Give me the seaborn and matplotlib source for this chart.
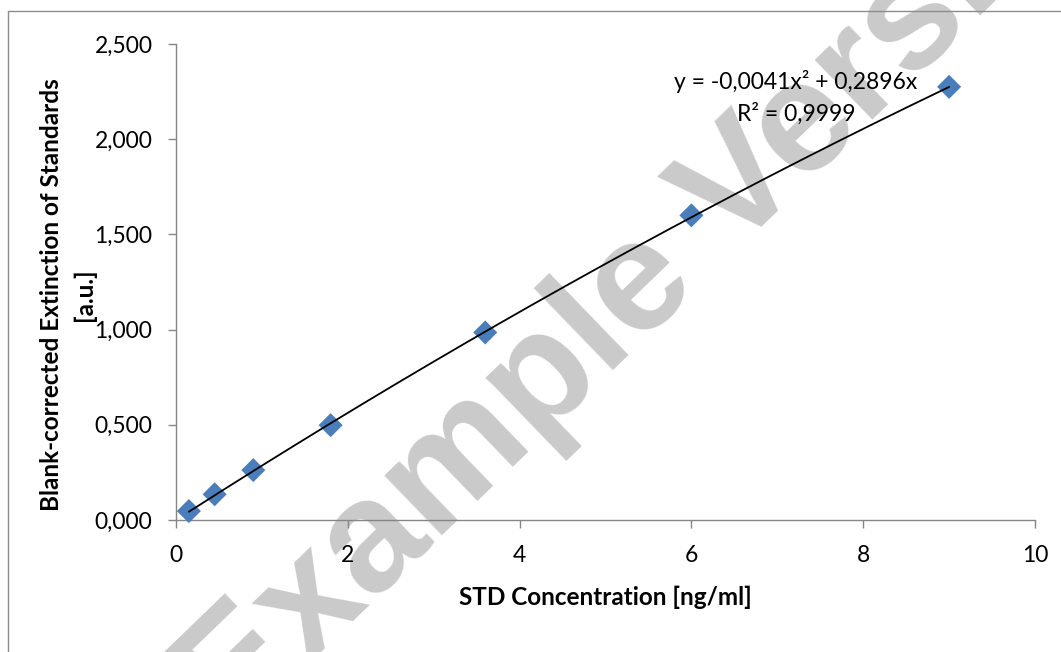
import matplotlib
matplotlib.use("Agg")
import matplotlib.pyplot as plt
from matplotlib.lines import Line2D
import numpy as np
import pandas as pd
import seaborn as sns

# ---- data ----
std_conc = [0.15, 0.45, 0.9, 1.8, 3.6, 6.0, 9.0]
extinction = [0.047, 0.135, 0.262, 0.498, 0.985, 1.600, 2.275]
trend_c2 = -0.0041
trend_c1 = 0.2896
x_ticks = [0, 2, 4, 6, 8, 10]
x_tick_labels = ["0", "2", "4", "6", "8", "10"]
y_ticks = [0.0, 0.5, 1.0, 1.5, 2.0, 2.5]
y_tick_labels = ["0,000", "0,500", "1,000", "1,500", "2,000", "2,500"]
eq_text = "y = -0,0041x² + 0,2896x\nR² = 0,9999"
x_label = "STD Concentration [ng/ml]"
y_label = "Blank-corrected Extinction of Standards\n[a.u.]"
watermark = "Example Version"

sns.set_theme(style="white")
plt.rcParams["font.family"] = ["Lato", "DejaVu Sans"]

W, H = 1061, 652
fig = plt.figure(figsize=(W / 100, H / 100), dpi=100)
fig.patch.set_facecolor("white")

def fx(px):
    return px / W

def fy(py):
    return 1 - py / H

# axes: x 176..1035, y 44..520 (pixels from top)
ax = fig.add_axes([fx(176), fy(520), fx(1035) - fx(176), fy(44) - fy(520)])
ax.patch.set_alpha(0)

df = pd.DataFrame({"x": std_conc, "y": extinction})
xs = np.linspace(min(std_conc), max(std_conc), 200)
trend = pd.DataFrame({"x": xs, "y": trend_c2 * xs ** 2 + trend_c1 * xs})

sns.scatterplot(data=df, x="x", y="y", ax=ax, marker="D", s=150,
                color="#4A7EBB", edgecolor="none", zorder=3, clip_on=False)
sns.lineplot(data=trend, x="x", y="y", ax=ax, color="black", linewidth=1.3,
             zorder=4)

ax.set_xlim(0, 10)
ax.set_ylim(0, 2.5)
ax.set_xticks(x_ticks)
ax.set_xticklabels(x_tick_labels)
ax.set_yticks(y_ticks)
ax.set_yticklabels(y_tick_labels)
ax.set_xlabel("")
ax.set_ylabel("")
for s in ["top", "right"]:
    ax.spines[s].set_visible(False)
for s in ["left", "bottom"]:
    ax.spines[s].set_color("#868686")
    ax.spines[s].set_linewidth(1.0)
ax.tick_params(axis="both", which="major", direction="out", length=6,
               width=1.0, color="#868686", labelsize=16.5, labelcolor="black",
               left=True, bottom=True)
ax.tick_params(axis="y", pad=11)
ax.tick_params(axis="x", pad=12)
ax.grid(False)

fig.text(fx(605), fy(597), x_label, ha="center", va="center", fontsize=17.5,
         fontweight="bold", color="black")
fig.text(fx(68), fy(295), y_label, ha="center", va="center", rotation=90,
         fontsize=17.5, fontweight="bold", color="black",
         multialignment="center", linespacing=1.45)

fig.text(fx(796), fy(97.5), eq_text, ha="center", va="center", fontsize=16.5,
         color="black", multialignment="center", linespacing=1.55)

# chart border (cropped at right and bottom)
fig.add_artist(Line2D([fx(8), fx(8)], [fy(10.5), -0.1], color="#8C8C8C",
                      linewidth=1.0, transform=fig.transFigure))
fig.add_artist(Line2D([fx(8), 1.1], [fy(10.5), fy(10.5)], color="#8C8C8C",
                      linewidth=1.0, transform=fig.transFigure))

# watermark
fig.text(fx(688), fy(298), watermark, ha="center", va="baseline",
         rotation=44, rotation_mode="anchor", fontsize=114,
         fontweight="bold", family=["Liberation Sans", "DejaVu Sans"],
         color="#CACACA", zorder=-1)

fig.savefig("out.png", dpi=100)
